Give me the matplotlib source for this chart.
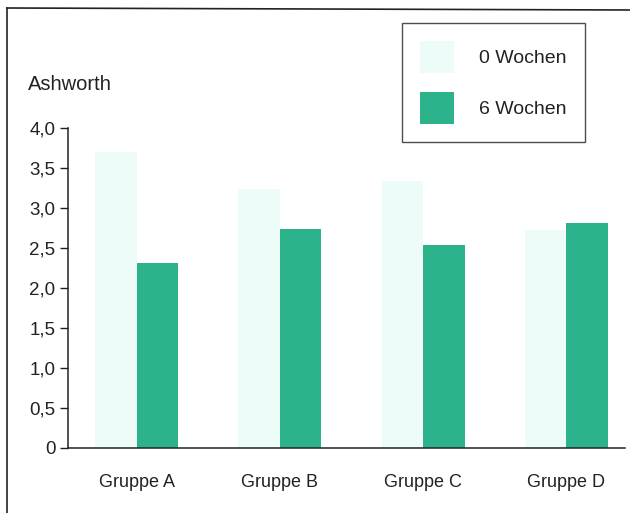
import matplotlib
matplotlib.use("Agg")
import matplotlib.pyplot as plt
from matplotlib.lines import Line2D
from matplotlib.patches import Patch
import numpy as np

plt.rcParams['font.family'] = ['Liberation Sans', 'DejaVu Sans']

groups = ["Gruppe A", "Gruppe B", "Gruppe C", "Gruppe D"]
week0 = [3.70, 3.24, 3.33, 2.72]
week6 = [2.31, 2.73, 2.53, 2.81]
series_names = ["0 Wochen", "6 Wochen"]
yticks = [0, 0.5, 1.0, 1.5, 2.0, 2.5, 3.0, 3.5, 4.0]
ytick_labels = ["0", "0,5", "1,0", "1,5", "2,0", "2,5", "3,0", "3,5", "4,0"]

light = "#eefcf9"
dark = "#2db38b"
ink = "#222222"

fig = plt.figure(figsize=(6.3, 5.13), dpi=100)
ax = fig.add_axes([0.108, 0.127, 0.884, 0.624])

x = np.arange(len(groups))
w = 0.29
ax.bar(x - w / 2, week0, width=w, color=light, edgecolor="none")
ax.bar(x + w / 2, week6, width=w, color=dark, edgecolor="none")

ax.set_xlim(-0.48, 3.41)
ax.set_ylim(0, 4)
ax.set_yticks(yticks)
ax.set_yticklabels(ytick_labels)
ax.set_xticks(x)
ax.set_xticklabels(groups)

ax.tick_params(axis="y", length=6, width=1, color=ink, labelsize=13.5,
               labelcolor=ink, pad=3)
ax.tick_params(axis="x", length=0, labelsize=13, labelcolor=ink, pad=19)

for side in ("top", "right"):
    ax.spines[side].set_visible(False)
for side in ("left", "bottom"):
    ax.spines[side].set_linewidth(1.1)
    ax.spines[side].set_color(ink)

fig.text(28 / 630, 1 - 85 / 513, "Ashworth", fontsize=14.5, color=ink,
         va="center", ha="left")

handles = [Patch(facecolor=light, edgecolor="none"),
           Patch(facecolor=dark, edgecolor="none")]
leg = fig.legend(handles, series_names, loc="upper left",
                 bbox_to_anchor=(402 / 630, 1 - 23 / 513),
                 fontsize=14, frameon=True, fancybox=False,
                 handlelength=1.75, handleheight=2.1, handletextpad=1.25,
                 labelspacing=1.0, borderpad=0.95, borderaxespad=0)
leg.get_frame().set_edgecolor(ink)
leg.get_frame().set_linewidth(1.0)
for t in leg.get_texts():
    t.set_color(ink)

# outer frame (left and top edges only)
fig.add_artist(Line2D([7 / 630, 7 / 630], [0, 1 - 8 / 513],
                      transform=fig.transFigure, color=ink, lw=1.2))
fig.add_artist(Line2D([7 / 630, 1], [1 - 8 / 513, 1 - 10 / 513],
                      transform=fig.transFigure, color=ink, lw=1.2))

fig.savefig("out.png", dpi=100)
